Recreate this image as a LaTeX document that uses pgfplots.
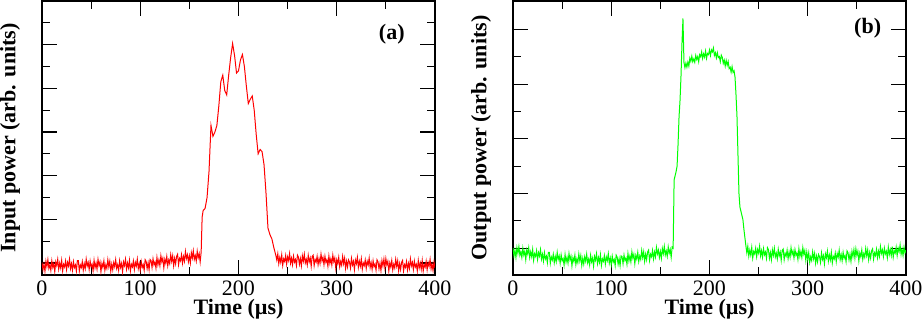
\documentclass[border=0pt]{standalone}
\usepackage{fontspec}
\setmainfont{Liberation Serif}
\usepackage{pgfplots}
\pgfplotsset{compat=1.18}

\pgfplotsset{
  trace/.style={
    scale only axis, width=196.5pt, height=137pt,
    xmin=0, xmax=400,
    xtick={0,100,...,400}, minor xtick={50,150,250,350},
    tick align=inside, xtick pos=both, ytick pos=both,
    major tick length=7.5pt, minor tick length=4pt,
    axis line style={line width=0.75pt},
    every tick/.style={black, line width=0.6pt},
    yticklabels={},
    /pgf/number format/assume math mode=true,
    xticklabel style={font=\fontsize{11}{13}\selectfont, anchor=center, inner sep=0pt, yshift=-6.8pt},
    label style={font=\fontsize{11}{13}\selectfont\bfseries},
    xlabel={Time (µs)},
    xlabel style={at={(axis description cs:0.5,-0.126)}, anchor=center, inner sep=0pt},
    ylabel style={at={(axis description cs:-0.081,0.5)}, anchor=center, inner sep=0pt},
  }
}

\begin{document}
\begin{tikzpicture}
\begin{axis}[trace,
  ymin=-0.55, ymax=12.0,
  ytick={0,2,...,10}, minor ytick={1,3,...,11},
  ylabel={Input power (arb. units)}]
\addplot[red, line width=0.5pt] table {
x y
0 0.02
1 -0.31
2 -0.05
3 -0.38
4 0.08
5 -0.17
6 0.15
7 -0.25
8 -0.08
9 -0.34
10 0.10
11 -0.20
12 -0.02
13 -0.40
14 0.05
15 -0.12
16 0.17
17 -0.28
18 0.00
19 -0.22
20 0.12
21 -0.36
22 -0.06
23 -0.18
24 0.09
25 -0.30
26 0.03
27 -0.14
28 0.18
29 -0.26
30 -0.03
31 -0.33
32 0.06
33 -0.21
34 -0.09
35 -0.37
36 0.11
37 0.11
38 -0.37
39 -0.09
40 -0.21
41 0.06
42 -0.33
43 -0.03
44 -0.26
45 0.18
46 -0.14
47 0.03
48 -0.30
49 0.09
50 -0.18
51 -0.06
52 -0.36
53 0.12
54 -0.22
55 0.00
56 -0.28
57 0.17
58 -0.12
59 0.05
60 -0.40
61 -0.02
62 -0.20
63 0.10
64 -0.34
65 -0.08
66 -0.25
67 0.15
68 -0.17
69 0.08
70 -0.38
71 -0.05
72 -0.31
73 0.02
74 -0.17
75 0.15
76 -0.25
77 -0.08
78 -0.34
79 0.10
80 -0.20
81 -0.02
82 -0.40
83 0.05
84 -0.12
85 0.17
86 -0.28
87 0.00
88 -0.22
89 0.12
90 -0.36
91 -0.06
92 -0.18
93 0.09
94 -0.30
95 0.03
96 -0.14
97 0.18
98 -0.26
99 -0.03
100 -0.33
101 0.07
102 -0.20
103 -0.07
104 -0.34
105 0.15
106 0.07
107 -0.26
108 0.01
109 -0.31
110 0.16
111 0.11
112 -0.21
113 0.19
114 -0.08
115 0.05
116 -0.24
117 0.25
118 -0.09
119 0.14
120 -0.13
121 0.33
122 0.05
123 0.22
124 -0.22
125 0.17
126 -0.01
127 0.30
128 -0.13
129 0.14
130 -0.03
131 0.38
132 0.07
133 0.33
134 -0.13
135 0.21
136 -0.04
137 0.30
138 0.40
139 -0.08
140 0.21
141 0.10
142 0.38
143 -0.01
144 0.30
145 0.08
146 0.53
147 0.21
148 0.38
149 0.06
150 0.33
151 0.00
152 0.47
153 0.23
154 0.56
155 0.16
156 0.34
157 0.09
158 0.54
159 0.24
160 0.43
161 0.05
162 0.50
163 2.10
164 2.40
166 2.50
168 3.00
170 4.20
172 6.30
174 5.80
176 6.00
178 6.30
180 7.20
182 8.30
184 8.60
186 7.90
188 7.70
190 8.60
192 9.40
194 10.05
196 9.50
198 8.70
200 8.80
202 9.30
204 9.55
206 9.00
208 8.10
210 7.30
212 7.50
214 7.65
216 7.00
218 5.90
220 5.00
222 5.20
224 5.10
226 4.50
228 3.20
230 1.60
232 1.30
234 1.10
236 0.70
238 0.35
239 0.13
240 0.42
241 -0.03
242 0.25
243 0.03
244 0.37
245 -0.11
246 0.19
247 0.07
248 0.34
249 -0.05
250 0.28
251 0.11
252 0.43
253 -0.01
254 0.22
255 -0.08
256 0.31
257 0.04
258 0.16
259 -0.12
260 0.36
261 0.27
262 -0.06
263 0.20
264 -0.13
265 0.33
266 0.08
267 0.40
268 0.00
269 0.17
270 -0.09
271 0.35
272 0.05
273 0.23
274 -0.15
275 0.30
276 0.36
277 -0.12
278 0.16
279 0.04
280 0.31
281 -0.08
282 0.21
283 -0.02
284 0.41
285 0.09
286 0.26
287 -0.08
288 0.31
289 0.03
290 0.15
291 -0.15
292 0.32
293 -0.02
294 0.19
295 -0.09
296 0.36
297 0.06
298 0.23
299 -0.23
300 0.15
301 -0.03
302 0.26
303 -0.18
304 0.07
305 -0.10
306 0.30
307 -0.03
308 0.22
309 -0.25
310 0.08
311 -0.18
312 0.14
313 0.04
314 -0.23
315 0.21
316 -0.09
317 0.08
318 -0.30
319 0.14
320 -0.03
321 0.26
322 -0.20
323 0.08
324 -0.15
325 0.19
326 -0.29
327 0.00
328 -0.12
329 0.14
330 -0.25
331 0.08
332 -0.09
333 0.23
334 -0.21
335 0.02
336 -0.29
337 0.10
338 -0.17
339 -0.05
340 -0.33
341 0.15
342 0.06
343 -0.27
344 -0.01
345 -0.35
346 0.11
347 -0.14
348 0.18
349 -0.22
350 0.20
351 -0.09
352 0.08
353 -0.37
354 0.01
355 -0.18
356 0.12
357 -0.32
358 -0.06
359 -0.23
360 0.17
361 -0.15
362 0.10
363 -0.36
364 -0.03
365 -0.30
366 0.03
367 0.12
368 -0.36
369 -0.08
370 -0.20
371 0.07
372 -0.32
373 -0.02
374 -0.25
375 0.19
376 -0.13
377 0.03
378 -0.30
379 0.09
380 -0.18
381 -0.06
382 -0.36
383 0.12
384 -0.22
385 0.00
386 -0.29
387 0.11
388 -0.37
389 -0.07
390 -0.19
391 0.08
392 -0.31
393 0.02
394 -0.15
395 0.17
396 -0.27
397 -0.04
398 -0.34
399 0.05
400 -0.22
};
\node[font=\fontsize{11}{13}\selectfont\bfseries] at (axis cs:356,10.46) {(a)};
\end{axis}

\begin{axis}[trace, at={(235.5pt,0pt)},
  ymin=-0.98, ymax=9.04,
  ytick={0,2,...,8}, minor ytick={1,3,...,7},
  ylabel={Output power (arb. units)}]
\addplot[green, line width=0.5pt] table {
x y
0 0.00
1 -0.28
2 -0.07
3 -0.34
4 0.02
5 -0.19
6 0.06
7 -0.26
8 -0.13
9 -0.34
10 0.00
11 -0.25
12 -0.11
13 -0.42
14 -0.06
15 -0.21
16 0.02
17 -0.34
18 -0.13
19 -0.31
20 -0.04
21 -0.44
22 -0.20
23 -0.30
24 -0.09
25 -0.41
26 -0.16
27 -0.29
28 -0.05
29 -0.40
30 -0.22
31 -0.47
32 -0.16
33 -0.39
34 -0.29
35 -0.53
36 -0.15
37 -0.15
38 -0.55
39 -0.32
40 -0.43
41 -0.22
42 -0.53
43 -0.30
44 -0.49
45 -0.15
46 -0.41
47 -0.28
48 -0.55
49 -0.24
50 -0.46
51 -0.38
52 -0.62
53 -0.23
54 -0.51
55 -0.33
56 -0.55
57 -0.19
58 -0.43
59 -0.29
60 -0.65
61 -0.35
62 -0.49
63 -0.25
64 -0.60
65 -0.39
66 -0.53
67 -0.21
68 -0.47
69 -0.27
70 -0.63
71 -0.37
72 -0.58
73 -0.31
74 -0.48
75 -0.22
76 -0.54
77 -0.40
78 -0.61
79 -0.26
80 -0.50
81 -0.36
82 -0.66
83 -0.30
84 -0.44
85 -0.20
86 -0.56
87 -0.34
88 -0.52
89 -0.24
90 -0.63
91 -0.39
92 -0.48
93 -0.27
94 -0.58
95 -0.32
96 -0.45
97 -0.20
98 -0.55
99 -0.36
100 -0.60
101 -0.29
102 -0.51
103 -0.41
104 -0.64
105 -0.25
106 -0.32
107 -0.59
108 -0.38
109 -0.64
110 -0.28
111 -0.31
112 -0.57
113 -0.25
114 -0.45
115 -0.36
116 -0.59
117 -0.19
118 -0.47
119 -0.28
120 -0.50
121 -0.13
122 -0.36
123 -0.22
124 -0.57
125 -0.26
126 -0.40
127 -0.15
128 -0.49
129 -0.28
130 -0.41
131 -0.08
132 -0.34
133 -0.13
134 -0.48
135 -0.22
136 -0.42
137 -0.14
138 -0.07
139 -0.45
140 -0.22
141 -0.31
142 -0.08
143 -0.39
144 -0.14
145 -0.32
146 0.03
147 -0.21
148 -0.07
149 -0.34
150 -0.12
151 -0.37
152 -0.01
153 -0.20
154 0.07
155 -0.25
156 -0.10
157 -0.30
158 0.05
159 -0.18
160 -0.04
161 -0.33
162 0.04
163 0.00
164 2.50
165 2.65
166 2.80
167 3.00
168 3.80
169 4.80
170 5.40
171 6.30
172 7.50
173 8.40
174 6.80
175 6.60
176 6.77
177 6.62
178 6.81
179 6.66
180 6.95
181 6.83
182 7.02
183 6.82
184 6.92
185 6.80
186 7.05
187 6.90
188 7.01
189 6.82
190 7.08
191 7.00
192 7.18
193 6.94
194 7.11
195 6.99
196 7.21
197 6.94
198 7.12
199 7.08
200 7.25
201 7.05
202 7.25
203 7.18
204 7.32
205 7.05
206 7.15
207 6.96
208 7.15
209 6.97
210 7.01
211 6.82
212 7.06
213 6.98
214 6.76
215 6.88
216 6.66
217 6.87
218 6.69
219 6.83
220 6.57
221 6.62
222 6.44
223 6.64
224 6.43
225 6.49
226 6.25
227 5.60
228 4.80
229 3.40
230 2.00
231 1.50
232 1.35
233 1.20
234 1.05
235 0.70
236 0.40
237 0.10
238 -0.17
239 0.07
240 -0.29
241 -0.07
242 -0.25
243 0.03
244 -0.36
245 -0.12
246 -0.21
247 0.00
248 -0.31
249 -0.05
250 -0.18
251 0.07
252 -0.28
253 -0.09
254 -0.33
255 -0.02
256 -0.24
257 -0.14
258 -0.37
259 0.02
260 -0.05
261 -0.37
262 -0.16
263 -0.42
264 -0.06
265 -0.26
266 0.00
267 -0.32
268 -0.18
269 -0.39
270 -0.04
271 -0.28
272 -0.14
273 -0.44
274 -0.08
275 -0.03
276 -0.42
277 -0.19
278 -0.29
279 -0.07
280 -0.38
281 -0.14
282 -0.33
283 0.02
284 -0.23
285 -0.10
286 -0.36
287 -0.05
288 -0.26
289 -0.17
290 -0.41
291 -0.02
292 -0.30
293 -0.12
294 -0.34
295 0.02
296 -0.22
297 -0.08
298 -0.44
299 -0.14
300 -0.41
301 -0.17
302 -0.52
303 -0.31
304 -0.45
305 -0.13
306 -0.39
307 -0.19
308 -0.55
309 -0.29
310 -0.50
311 -0.23
312 -0.31
313 -0.52
314 -0.17
315 -0.41
316 -0.27
317 -0.57
318 -0.21
319 -0.35
320 -0.11
321 -0.47
322 -0.25
323 -0.43
324 -0.15
325 -0.54
326 -0.30
327 -0.39
328 -0.18
329 -0.49
330 -0.20
331 -0.33
332 -0.07
333 -0.42
334 -0.23
335 -0.46
336 -0.15
337 -0.37
338 -0.27
339 -0.49
340 -0.10
341 -0.17
342 -0.43
343 -0.22
344 -0.48
345 -0.11
346 -0.31
347 -0.05
348 -0.36
349 -0.02
350 -0.26
351 -0.11
352 -0.47
353 -0.17
354 -0.31
355 -0.06
356 -0.41
357 -0.20
358 -0.33
359 -0.01
360 -0.27
361 -0.06
362 -0.42
363 -0.16
364 -0.36
365 -0.09
366 -0.02
367 -0.40
368 -0.17
369 -0.27
370 -0.04
371 -0.35
372 -0.11
373 -0.30
374 0.06
375 -0.19
376 -0.06
377 -0.31
378 0.00
379 -0.21
380 -0.11
381 -0.35
382 0.04
383 -0.23
384 -0.05
385 -0.27
386 0.06
387 -0.33
388 -0.09
389 -0.18
390 0.04
391 -0.27
392 0.00
393 -0.13
394 0.12
395 -0.23
396 -0.03
397 -0.27
398 0.04
399 -0.17
400 -0.07
};
\node[font=\fontsize{11}{13}\selectfont\bfseries] at (axis cs:361,8.05) {(b)};
\end{axis}
\pgfresetboundingbox
\useasboundingbox (-21pt,-26pt) rectangle (440.5pt,137.5pt);
\end{tikzpicture}
\end{document}
